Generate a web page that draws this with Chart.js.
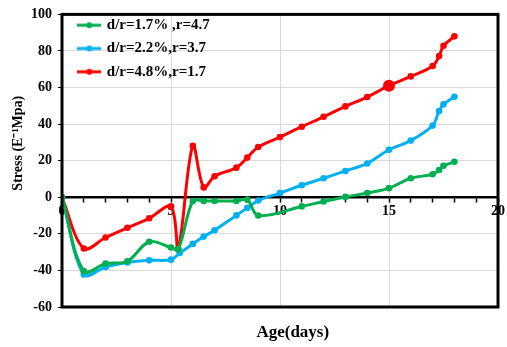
<!DOCTYPE html>
<html>
<head>
<meta charset="utf-8">
<script src="https://cdn.jsdelivr.net/npm/chart.js@4"></script>
<style>
  body { margin: 0; background: #fff; }
  #wrap { width: 507px; height: 347px; }
</style>
</head>
<body>
<div id="wrap"><canvas id="myChart"></canvas></div>
<script>
'use strict';

let seriesNames = ['d/r=1.7% ,r=4.7', 'd/r=2.2%,r=3.7', 'd/r=4.8%,r=1.7'];

let greenDays = [0, 1, 2, 3, 4, 5, 5.33, 6, 6.5, 7, 8, 8.5, 9, 11, 12, 13, 14, 15, 16, 17, 17.3, 17.5, 18];
let greenStress = [0, -40.4, -36.3, -35, -24.3, -27.5, -28.5, -2, -2, -2, -2, -1.3, -10, -5, -2.3, 0.2, 2.3, 5, 10.4, 12.6, 14.9, 17.2, 19.4];

let blueDays = [0, 1, 2, 3, 4, 5, 5.4, 6, 6.5, 7, 8, 8.5, 9, 10, 11, 12, 13, 14, 15, 16, 17, 17.3, 17.5, 18];
let blueStress = [0, -42.2, -38.1, -35.7, -34.5, -34.1, -30.5, -25.5, -21.5, -18, -9.9, -5.8, -1.8, 2.3, 6.6, 10.4, 14.4, 18.5, 26, 31, 39.2, 47.2, 50.8, 55];

let redDays = [0, 1, 2, 3, 4, 5, 5.33, 6, 6.5, 7, 8, 8.5, 9, 10, 11, 12, 13, 14, 15, 16, 17, 17.3, 17.5, 18];
let redStress = [0, -28, -22, -16.7, -11.5, -5, -28.2, 28.2, 5.4, 11.5, 16.2, 21.7, 27.5, 32.9, 38.6, 44, 49.7, 54.8, 61, 66.1, 71.8, 77.2, 82.8, 88];

let xTickLabels = [0, 5, 10, 15, 20];
let yTicks = [-60, -40, -20, 0, 20, 40, 60, 80, 100];

let colors = ['#00b050', '#00b0f0', '#ff0000'];
let serif = "'Liberation Serif', 'Times New Roman', serif";

function toPoints(days, values) {
  let pts = [];
  for (let i = 0; i < days.length; i++) {
    pts.push({ x: days[i], y: values[i] });
  }
  return pts;
}

// little line + dot swatch like the Excel legend
function legendIcon(color) {
  let c = document.createElement('canvas');
  c.width = 24;
  c.height = 8;
  let g = c.getContext('2d');
  g.strokeStyle = color;
  g.lineWidth = 3;
  g.beginPath();
  g.moveTo(0, 4);
  g.lineTo(24, 4);
  g.stroke();
  g.fillStyle = color;
  g.beginPath();
  g.arc(12, 4, 3, 0, Math.PI * 2);
  g.fill();
  return c;
}
let icons = colors.map(legendIcon);

function makeSet(i, pts) {
  return {
    label: seriesNames[i],
    data: pts,
    borderColor: colors[i],
    backgroundColor: colors[i],
    borderWidth: 3,
    pointRadius: function (ctx) {
      return (i === 2 && ctx.raw && ctx.raw.x === 15) ? 6 : 3.3;
    },
    pointBorderWidth: 0,
    tension: 0.35
  };
}

const frame = {
  id: 'frame',
  afterLayout(chart) {
    // keep the legend tucked in the upper left corner of the plot
    let lg = chart.legend;
    let a = chart.chartArea;
    let h = lg.height;
    let w = lg.width;
    lg.top = a.top - 5;
    lg.bottom = lg.top + h;
    lg.left = a.left + 9;
    lg.right = lg.left + w;
  },
  afterDatasetsDraw(chart) {
    let a = chart.chartArea;
    let ctx = chart.ctx;
    ctx.save();
    ctx.strokeStyle = '#000';
    ctx.lineWidth = 3;
    ctx.strokeRect(a.left, a.top, a.right - a.left, a.bottom - a.top);
    ctx.restore();
  }
};

const config = {
  type: 'line',
  data: {
    datasets: [
      makeSet(0, toPoints(greenDays, greenStress)),
      makeSet(1, toPoints(blueDays, blueStress)),
      makeSet(2, toPoints(redDays, redStress))
    ]
  },
  options: {
    responsive: true,
    maintainAspectRatio: false,
    animation: false,
    layout: { padding: { top: 10, right: 2, left: 0, bottom: 0 } },
    plugins: {
      legend: {
        position: 'chartArea',
        align: 'start',
        labels: {
          usePointStyle: true,
          pointStyleWidth: 20,
          padding: 8.3,
          color: '#000',
          font: { family: serif, size: 15, weight: 'bold' },
          generateLabels: function (chart) {
            let items = Chart.defaults.plugins.legend.labels.generateLabels(chart);
            items.forEach(function (it, k) { it.pointStyle = icons[k]; });
            return items;
          }
        }
      },
      tooltip: { enabled: false }
    },
    scales: {
      x: {
        type: 'linear',
        position: { y: 0 },
        min: 0,
        max: 20,
        border: { display: true, color: '#000', width: 2.5 },
        grid: {
          color: function (ctx) {
            let v = ctx.tick && ctx.tick.value;
            return (v % 5 === 0 && v > 0 && v < 20) ? '#d9d9d9' : 'rgba(0,0,0,0)';
          },
          tickColor: '#000',
          tickLength: 4,
          tickWidth: 1.5
        },
        ticks: {
          stepSize: 1,
          autoSkip: false,
          maxRotation: 0,
          padding: 2,
          color: '#000',
          font: { family: serif, size: 14, weight: 'bold' },
          callback: function (v) { return xTickLabels.includes(v) ? String(v) : ''; }
        }
      },
      x2: {
        type: 'linear',
        position: 'bottom',
        min: 0,
        max: 20,
        border: { display: false },
        grid: { display: false },
        ticks: { display: false },
        title: {
          display: true,
          text: '\u2002\u2002\u2002Age(days)',
          color: '#000',
          font: { family: serif, size: 17, weight: 'bold' },
          padding: { top: 16 }
        },
        afterFit: function (scale) { scale.height = 40; }
      },
      y: {
        min: -60,
        max: 100,
        border: { display: false },
        grid: {
          color: '#d9d9d9',
          tickColor: '#000',
          tickLength: 4
        },
        afterBuildTicks: function (scale) {
          scale.ticks = yTicks.map(function (v) { return { value: v }; });
        },
        ticks: {
          padding: 6,
          color: '#000',
          font: { family: serif, size: 14, weight: 'bold' }
        },
        title: {
          display: true,
          text: '\u2002\u2002\u2002\u2002\u2002Stress (E\u207B\u00B9Mpa)',
          color: '#000',
          font: { family: serif, size: 14, weight: 'bold' },
          padding: { top: 10, bottom: 0 }
        },
        afterFit: function (scale) { scale.width = 62; }
      }
    }
  },
  plugins: [frame]
};

const myChart = new Chart(document.getElementById('myChart'), config);
</script>
</body>
</html>
